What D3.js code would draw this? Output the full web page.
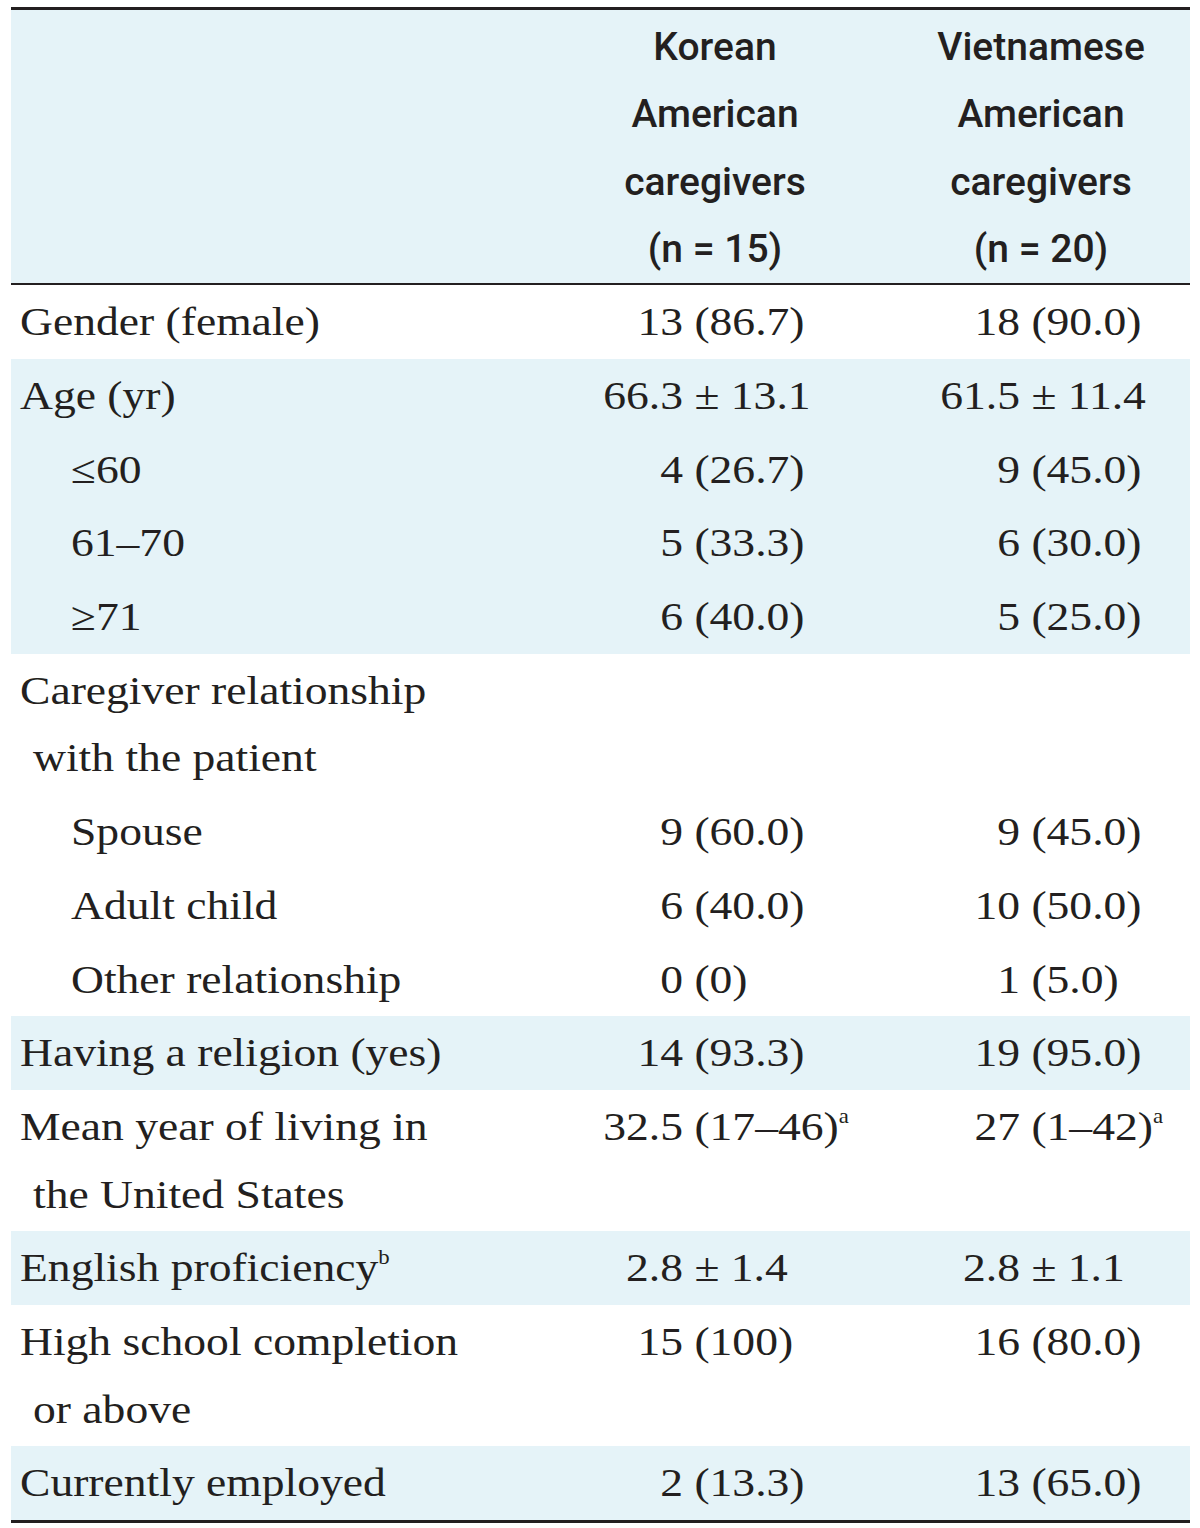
<!DOCTYPE html>
<html><head><meta charset="utf-8">
<script src="https://cdn.jsdelivr.net/npm/d3@7"></script>
<style>
html,body{margin:0;padding:0;background:#fff;}
svg{display:block;}
</style></head>
<body>
<svg id="t" width="1200" height="1528"></svg>
<script>
// ---- data ----
const headerKorean = ["Korean", "American", "caregivers", "(n = 15)"];
const headerVietnamese = ["Vietnamese", "American", "caregivers", "(n = 20)"];
const rowLabels = [
  ["Gender (female)"],
  ["Age (yr)"],
  ["≤60"],
  ["61–70"],
  ["≥71"],
  ["Caregiver relationship", "with the patient"],
  ["Spouse"],
  ["Adult child"],
  ["Other relationship"],
  ["Having a religion (yes)"],
  ["Mean year of living in", "the United States"],
  ["English proficiency"],
  ["High school completion", "or above"],
  ["Currently employed"]
];
const labelSup = ["", "", "", "", "", "", "", "", "", "", "", "b", "", ""];
const rowIndent = [0, 0, 1, 1, 1, 0, 1, 1, 1, 0, 0, 0, 0, 0];
const rowShaded = [false, true, true, true, true, false, false, false, false, true, false, true, false, true];
const koreanValues = ["13 (86.7)", "66.3 ± 13.1", "4 (26.7)", "5 (33.3)", "6 (40.0)", "", "9 (60.0)", "6 (40.0)", "0 (0)", "14 (93.3)", "32.5 (17–46)", "2.8 ± 1.4", "15 (100)", "2 (13.3)"];
const vietnameseValues = ["18 (90.0)", "61.5 ± 11.4", "9 (45.0)", "6 (30.0)", "5 (25.0)", "", "9 (45.0)", "10 (50.0)", "1 (5.0)", "19 (95.0)", "27 (1–42)", "2.8 ± 1.1", "16 (80.0)", "13 (65.0)"];
const valueSup = ["", "", "", "", "", "", "", "", "", "", "a", "", "", ""];

// ---- layout ----
const left = 11, right = 1190;
const topRule = 7, headerBottom = 283, bodyTop = 285, bodyBottom = 1520;
const lineGap = 67.5;
const nLines = rowLabels.map(d => d.length);
const totalExtra = d3.sum(nLines, n => (n - 1) * lineGap);
const rowH = (bodyBottom - bodyTop - totalExtra) / rowLabels.length;
const rowTops = [];
let acc = bodyTop;
nLines.forEach(n => { rowTops.push(acc); acc += rowH + (n - 1) * lineGap; });
const rowHeights = nLines.map(n => rowH + (n - 1) * lineGap);

const textColor = "#231f20";
const shade = "#e5f3f8";
const serif = "'Liberation Serif', 'Times New Roman', serif";
const sans = "Roboto, 'Open Sans', sans-serif";
const fs = 40;
const sx = 1.14; // horizontal stretch to match wide serif face

const svg = d3.select("#t");

// header background
svg.append("rect").attr("x", left).attr("y", topRule + 2).attr("width", right - left)
  .attr("height", headerBottom - topRule - 2).attr("fill", shade);

// shaded row groups (merge contiguous shaded rows)
const bands = [];
rowShaded.forEach((s, i) => {
  if (!s) return;
  const last = bands[bands.length - 1];
  if (last && last.end === i - 1) { last.end = i; } else bands.push({ start: i, end: i });
});
svg.append("g").selectAll("rect").data(bands).join("rect")
  .attr("x", left).attr("y", b => Math.round(rowTops[b.start]))
  .attr("width", right - left)
  .attr("height", b => Math.round(rowTops[b.end] + rowHeights[b.end]) - Math.round(rowTops[b.start]))
  .attr("fill", shade);

// rules
svg.append("rect").attr("x", left).attr("y", topRule).attr("width", right - left).attr("height", 3).attr("fill", textColor);
svg.append("rect").attr("x", left).attr("y", headerBottom).attr("width", right - left).attr("height", 2).attr("fill", textColor);
svg.append("rect").attr("x", left).attr("y", bodyBottom).attr("width", right - left).attr("height", 3).attr("fill", textColor);

// header text
const colCenter = d3.scaleOrdinal().domain(["k", "v"]).range([715, 1041]);
const headerLineY = d3.scaleLinear().domain([0, 3]).range([60, 262]);
[["k", headerKorean], ["v", headerVietnamese]].forEach(([key, lines]) => {
  svg.append("g").selectAll("text").data(lines).join("text")
    .attr("x", colCenter(key)).attr("y", (d, i) => headerLineY(i))
    .attr("text-anchor", "middle")
    .attr("font-family", sans).attr("font-size", 39).attr("font-weight", 500)
    .attr("fill", textColor).text(d => d);
});

function serifText(x, y, anchor) {
  return svg.append("text")
    .attr("transform", `translate(${x},${y}) scale(${sx},1)`)
    .attr("text-anchor", anchor)
    .attr("font-family", serif).attr("font-size", fs).attr("fill", textColor)
    .attr("xml:space", "preserve").style("white-space", "pre");
}

// row labels
const indentX = [20, 71];
const contX = 33;
const lineBase = 50;
rowLabels.forEach((lines, i) => {
  lines.forEach((txt, j) => {
    const t = serifText(j === 0 ? indentX[rowIndent[i]] : contX, rowTops[i] + lineBase + j * lineGap, "start").text(txt);
    if (j === lines.length - 1 && labelSup[i]) {
      t.append("tspan").attr("font-size", 20).attr("dy", -17).text(labelSup[i]);
    }
  });
});

// values: first token right-aligned at anchor, remainder follows
const valueAnchor = d3.scaleOrdinal().domain(["k", "v"]).range([683, 1020]);
[["k", koreanValues], ["v", vietnameseValues]].forEach(([key, vals]) => {
  vals.forEach((v, i) => {
    if (!v) return;
    const sp = v.indexOf(" ");
    const first = v.slice(0, sp), rest = v.slice(sp);
    const y = rowTops[i] + lineBase;
    serifText(valueAnchor(key), y, "end").text(first);
    const t = serifText(valueAnchor(key), y, "start").text(rest);
    if (valueSup[i]) t.append("tspan").attr("font-size", 20).attr("dy", -17).text(valueSup[i]);
  });
});
</script>
</body></html>
